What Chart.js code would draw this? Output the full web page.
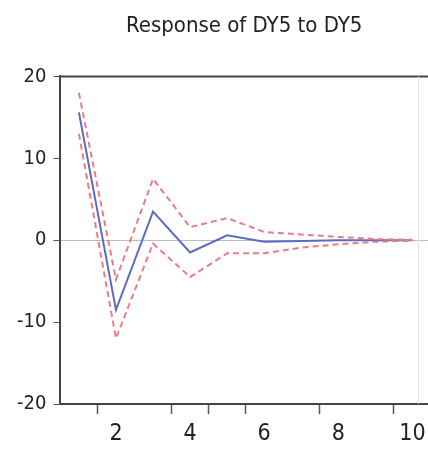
<!DOCTYPE html>
<html>
<head>
<meta charset="utf-8">
<script src="https://cdn.jsdelivr.net/npm/chart.js@4"></script>
<style>
  html, body { margin: 0; padding: 0; background: #fff; }
  #wrap { width: 428px; height: 450px; }
</style>
</head>
<body>
<div id="wrap"><canvas id="c"></canvas></div>
<script>
const periods = [1, 2, 3, 4, 5, 6, 7, 8, 9, 10];
const response = [15.6, -8.5, 3.5, -1.5, 0.6, -0.2, -0.1, 0.0, 0.0, 0.0];
const upperBand = [18.0, -4.8, 7.5, 1.6, 2.7, 1.0, 0.7, 0.4, 0.15, 0.05];
const lowerBand = [13.0, -12.0, -0.4, -4.5, -1.6, -1.6, -0.9, -0.5, -0.2, -0.05];
const xTickValues = [1.5, 2, 3.5, 4, 4.5, 5.5, 6, 7.5, 8, 9.5, 10];
const yTickValues = [-20, -10, 0, 10, 20];
const titleText = 'Response of DY5 to DY5';

const FONT = '"DejaVu Sans Condensed", "Liberation Sans", sans-serif';

const toPts = arr => arr.map((v, i) => ({ x: periods[i], y: v }));

const frame = {
  id: 'frame',
  afterDraw(chart) {
    const { ctx, chartArea: a } = chart;
    ctx.save();
    ctx.strokeStyle = '#444';
    ctx.lineWidth = 2;
    ctx.beginPath();
    ctx.moveTo(a.left, a.top);
    ctx.lineTo(a.right, a.top);
    ctx.stroke();
    ctx.strokeStyle = '#e4e4e4';
    ctx.lineWidth = 1;
    ctx.beginPath();
    ctx.moveTo(418.5, a.top);
    ctx.lineTo(418.5, a.bottom);
    ctx.stroke();
    ctx.restore();
  }
};

new Chart(document.getElementById('c'), {
  type: 'line',
  data: {
    datasets: [
      { data: toPts(upperBand), borderColor: '#e97d85', borderWidth: 2, borderDash: [6, 4], pointRadius: 0, fill: false, tension: 0 },
      { data: toPts(lowerBand), borderColor: '#e97d85', borderWidth: 2, borderDash: [6, 4], pointRadius: 0, fill: false, tension: 0 },
      { data: toPts(response), borderColor: '#5a6cc2', borderWidth: 2, pointRadius: 0, fill: false, tension: 0 }
    ]
  },
  plugins: [frame],
  options: {
    responsive: true,
    maintainAspectRatio: false,
    animation: false,
    layout: { padding: { left: 10, right: 0, top: 13, bottom: -5 } },
    plugins: {
      legend: { display: false },
      tooltip: { enabled: false },
      title: {
        display: true,
        text: titleText,
        fullSize: false,
        color: '#222',
        font: { family: FONT, size: 22, weight: 'normal' },
        padding: { top: 0, bottom: 37 }
      }
    },
    scales: {
      x: {
        type: 'linear',
        min: 0.5,
        max: 10.42,
        afterBuildTicks: s => { s.ticks = xTickValues.map(v => ({ value: v })); },
        afterFit: s => { s.paddingRight = 0; s.paddingLeft = 0; },
        ticks: {
          autoSkip: false,
          maxRotation: 0,
          color: '#222',
          font: { family: FONT, size: 23, lineHeight: 1 },
          padding: 9,
          callback: v => Number.isInteger(v) ? String(v) : ''
        },
        grid: {
          drawOnChartArea: false,
          drawTicks: true,
          tickLength: 10,
          tickWidth: 1.5,
          tickColor: ctx => Number.isInteger(ctx.tick && ctx.tick.value) ? 'rgba(0,0,0,0)' : '#555'
        },
        border: { color: '#444', width: 2 }
      },
      y: {
        min: -20,
        max: 20,
        afterBuildTicks: s => { s.ticks = yTickValues.map(v => ({ value: v })); },
        ticks: {
          color: '#222',
          font: { family: FONT, size: 20 },
          padding: 7
        },
        grid: {
          color: ctx => (ctx.tick && ctx.tick.value === 0) ? '#bdbdbd' : 'rgba(0,0,0,0)',
          lineWidth: 1,
          tickLength: 7,
          tickColor: '#555'
        },
        border: { color: '#444', width: 2 }
      }
    }
  }
});
</script>
</body>
</html>
